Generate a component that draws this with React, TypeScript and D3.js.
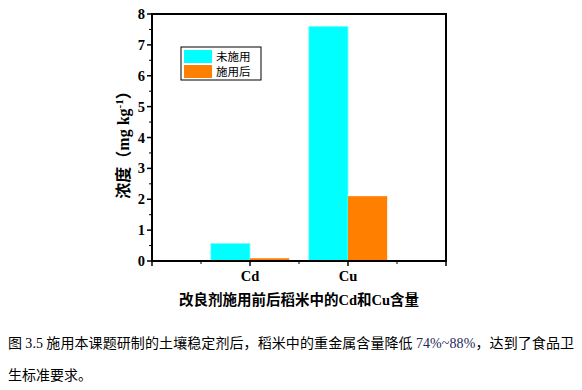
import React from 'react';
import * as d3 from 'd3';

const categories = ['Cd', 'Cu'];
const seriesNames = ['未施用', '施用后'];
const before = [0.57, 7.6];
const after = [0.09, 2.1];
const yTicks = [0, 1, 2, 3, 4, 5, 6, 7, 8];

const colors = ['#00FFFF', '#FF8000'];

const W = 582;
const H = 390;
const left = 152;
const right = 446;
const top = 14;
const bottom = 261;

const App = () => {
  const x = d3.scaleLinear().domain([0, 3]).range([left, right]);
  const y = d3.scaleLinear().domain([0, 8]).range([bottom, top]);
  const barW = x(0.4) - x(0);
  const series = [before, after];
  const minorY = d3.range(0, 8, 0.5).filter(v => v % 1 !== 0);
  const minorX = [0.5, 1.5, 2.5];

  const serif = '"Liberation Serif", "Times New Roman", serif';
  const cjkSerif = '"Liberation Serif", "Noto Sans CJK SC", serif';

  return (
    <svg width={W} height={H} style={{ position: 'absolute', left: 0, top: 0, background: '#fff' }}>
      {/* bars */}
      {categories.map((c, i) =>
        series.map((s, j) => (
          <rect
            key={c + j}
            x={x(i + 1) - barW + j * barW}
            y={y(s[i])}
            width={barW}
            height={y(0) - y(s[i])}
            fill={colors[j]}
            stroke={j === 0 ? '#7ffcff' : 'none'}
            strokeWidth={0.8}
          />
        ))
      )}

      {/* frame */}
      <rect x={left} y={top} width={right - left} height={bottom - top} fill="none" stroke="#000" strokeWidth={2} />

      {/* y ticks */}
      {yTicks.map(t => (
        <g key={'y' + t}>
          <line x1={left - 5} x2={left} y1={y(t)} y2={y(t)} stroke="#000" strokeWidth={1.5} />
          <text x={left - 7} y={y(t)} dy="0.35em" textAnchor="end" fontFamily={serif} fontWeight="bold" fontSize={14.5}>
            {t}
          </text>
        </g>
      ))}
      {minorY.map(t => (
        <line key={'my' + t} x1={left - 3} x2={left} y1={y(t)} y2={y(t)} stroke="#000" strokeWidth={1} />
      ))}

      {/* x ticks */}
      {[0, 1, 2, 3].map(t => (
        <line key={'x' + t} x1={x(t)} x2={x(t)} y1={bottom} y2={bottom + 5} stroke="#000" strokeWidth={1.5} />
      ))}
      {minorX.map(t => (
        <line key={'mx' + t} x1={x(t)} x2={x(t)} y1={bottom} y2={bottom + 3} stroke="#000" strokeWidth={1} />
      ))}
      {categories.map((c, i) => (
        <text key={c} x={x(i + 1)} y={281} textAnchor="middle" fontFamily={serif} fontWeight="bold" fontSize={14.5}>
          {c}
        </text>
      ))}

      {/* x title */}
      <text x={299} y={305} textAnchor="middle" fontFamily={cjkSerif} fontWeight="bold" fontSize={14.5}>
        改良剂施用前后稻米中的Cd和Cu含量
      </text>

      {/* y title */}
      <text
        transform={`translate(129, 141) rotate(-90)`}
        textAnchor="middle"
        fontFamily={cjkSerif}
        fontWeight="bold"
        fontSize={16}
      >
        浓度（mg kg<tspan dy={-6} fontSize={11}>-1</tspan><tspan dy={6}>）</tspan>
      </text>

      {/* legend */}
      <rect x={181} y={47} width={80} height={33} fill="#fff" stroke="#000" strokeWidth={1} />
      {seriesNames.map((n, j) => (
        <g key={n}>
          <rect x={184} y={50 + j * 15} width={28} height={13} fill={colors[j]} />
          <text x={216} y={57 + j * 15} dy="0.35em" fontFamily='"Noto Sans CJK SC", sans-serif' fontSize={11.5}>
            {n}
          </text>
        </g>
      ))}

      {/* caption */}
      <text x={8} y={348} fontFamily='"Noto Sans CJK SC", sans-serif' fontSize={14} fill="#000" textLength={566} lengthAdjust="spacing">
        图 <tspan fontFamily={serif}>3.5</tspan> 施用本课题研制的土壤稳定剂后，稻米中的重金属含量降低{' '}
        <tspan fontFamily={serif} fill="#1f2a5a">74%~88%</tspan>，达到了食品卫
      </text>
      <text x={8} y={380} fontFamily='"Noto Sans CJK SC", sans-serif' fontSize={14} fill="#000">
        生标准要求。
      </text>
    </svg>
  );
};

export default App;
